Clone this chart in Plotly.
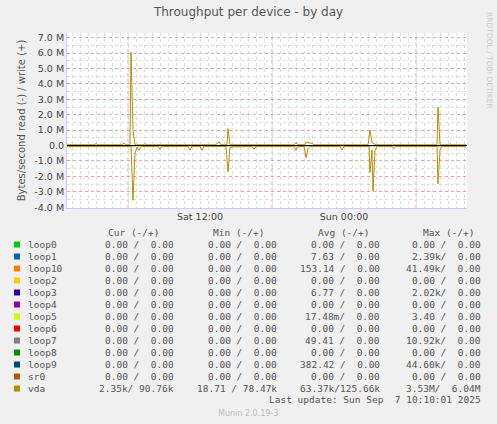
import plotly.graph_objects as go
import pandas as pd

# ---- data (MB/s, write positive, read negative) ----
write_times = ["2025-09-06 00:55","2025-09-06 01:05","2025-09-06 03:10","2025-09-06 03:20","2025-09-06 03:30",
  "2025-09-06 05:30","2025-09-06 05:40","2025-09-06 05:50","2025-09-06 06:10","2025-09-06 06:15","2025-09-06 06:25",
  "2025-09-06 06:35","2025-09-06 07:20","2025-09-06 07:25","2025-09-06 07:35","2025-09-06 10:10","2025-09-06 13:20",
  "2025-09-06 13:35","2025-09-06 13:45","2025-09-06 14:15","2025-09-06 14:20","2025-09-06 14:30","2025-09-06 19:50",
  "2025-09-06 20:00","2025-09-06 20:10","2025-09-06 20:45","2025-09-06 20:50","2025-09-06 21:20","2025-09-06 21:30",
  "2025-09-07 02:00","2025-09-07 02:10","2025-09-07 02:20","2025-09-07 02:40","2025-09-07 07:45","2025-09-07 07:50",
  "2025-09-07 08:00","2025-09-07 08:45","2025-09-07 08:50","2025-09-07 09:00","2025-09-07 10:10"]
write_vals = [0.1,0.05,0.05,0.12,0.05,0.05,0.15,0.05,0.05,6.05,1.0,0.05,0.05,0.12,0.05,0.05,0.05,0.25,0.05,
  0.05,1.1,0.05,0.05,0.2,0.05,0.05,0.2,0.15,0.05,0.05,1.0,0.2,0.05,0.05,2.5,0.05,0.05,0.12,0.05,0.05]
read_times = ["2025-09-06 00:55","2025-09-06 05:30","2025-09-06 06:15","2025-09-06 06:25","2025-09-06 06:35",
  "2025-09-06 06:45","2025-09-06 06:55","2025-09-06 07:05","2025-09-06 08:30","2025-09-06 08:40","2025-09-06 08:50",
  "2025-09-06 11:00","2025-09-06 11:10","2025-09-06 11:20","2025-09-06 12:00","2025-09-06 12:10","2025-09-06 12:20",
  "2025-09-06 14:10","2025-09-06 14:20","2025-09-06 14:30","2025-09-06 16:20","2025-09-06 16:30","2025-09-06 16:40",
  "2025-09-06 19:50","2025-09-06 20:00","2025-09-06 20:10","2025-09-06 20:40","2025-09-06 20:50","2025-09-06 21:00",
  "2025-09-06 21:10","2025-09-06 23:40","2025-09-06 23:50","2025-09-07 00:00","2025-09-07 02:05","2025-09-07 02:10",
  "2025-09-07 02:20","2025-09-07 02:25","2025-09-07 02:35","2025-09-07 02:45","2025-09-07 04:00","2025-09-07 04:10",
  "2025-09-07 04:20","2025-09-07 07:45","2025-09-07 07:50","2025-09-07 08:00","2025-09-07 08:10","2025-09-07 10:10"]
read_vals = [-0.05,-0.05,-0.05,-3.55,-0.5,-0.1,-0.3,-0.05,-0.05,-0.25,-0.05,-0.05,-0.3,-0.05,-0.05,-0.3,-0.05,
  -0.05,-1.7,-0.1,-0.05,-0.25,-0.05,-0.05,-0.3,-0.05,-0.05,-0.8,-0.2,-0.05,-0.05,-0.3,-0.05,-0.05,-1.75,-0.3,
  -2.95,-0.3,-0.05,-0.05,-0.2,-0.05,-0.05,-2.5,-0.3,-0.05,-0.05]

devices = ["loop0","loop1","loop10","loop2","loop3","loop4","loop5","loop6","loop7","loop8","loop9","sr0","vda"]
colors = ["#00cc00","#0066b3","#ff8000","#ffcc00","#330099","#990099","#ccff00","#ff0000","#808080","#008f00","#00487d","#b35a00","#b38f00"]
cur = ["0.00 /  0.00"]*12 + ["2.35k/ 90.76k"]
mins = ["0.00 /  0.00"]*12 + ["18.71 / 78.47k"]
avgs = ["0.00 /  0.00","7.63 /  0.00","153.14 /  0.00","0.00 /  0.00","6.77 /  0.00","0.00 /  0.00",
        "17.48m/  0.00","0.00 /  0.00","49.41 /  0.00","0.00 /  0.00","382.42 /  0.00","0.00 /  0.00","63.37k/125.66k"]
maxs = ["0.00 /  0.00","2.39k/  0.00","41.49k/  0.00","0.00 /  0.00","2.02k/  0.00","0.00 /  0.00",
        "3.40 /  0.00","0.00 /  0.00","10.92k/  0.00","0.00 /  0.00","44.60k/  0.00","0.00 /  0.00","3.53M/  6.04M"]
ytick_vals = [7,6,5,4,3,2,1,0,-1,-2,-3,-4]
ytick_text = ["7.0 M","6.0 M","5.0 M","4.0 M","3.0 M","2.0 M","1.0 M","0.0","-1.0 M","-2.0 M","-3.0 M","-4.0 M"]
xtick_vals = ["2025-09-06 12:00","2025-09-07 00:00"]
xtick_text = ["Sat 12:00","Sun 00:00"]
xmajor = ["2025-09-06 06:00","2025-09-06 18:00","2025-09-07 06:00"]
t0, t1 = "2025-09-06 00:55", "2025-09-07 10:15"

W, H = 497, 424
L, R, T, B = 67, 467, 33, 208
fig = go.Figure()
for d, c in zip(devices[:-1], colors[:-1]):
    fig.add_trace(go.Scatter(x=[t0, t1], y=[0, 0], mode="lines", line=dict(color=c, width=0.6), showlegend=False))
fig.add_trace(go.Scatter(x=write_times, y=write_vals, mode="lines", line=dict(color=colors[-1], width=1), showlegend=False))
fig.add_trace(go.Scatter(x=read_times, y=read_vals, mode="lines", line=dict(color=colors[-1], width=1), showlegend=False))

fig.update_layout(
    width=W, height=H, paper_bgcolor="#f0f0f0", plot_bgcolor="#ffffff",
    margin=dict(l=L, r=W-R, t=T, b=H-B), showlegend=False,
    font=dict(family="DejaVu Sans", size=9.5, color="#444444"),
    title=dict(text="Throughput per device - by day", x=0.5, xanchor="center", y=1-12/H, yanchor="middle",
               font=dict(size=12, color="#555555")),
    xaxis=dict(range=[t0, t1], type="date", tickvals=xtick_vals, ticktext=xtick_text, showgrid=False,
               zeroline=False, showline=True, linecolor="#ccccff", ticks="", ticklen=0,
               minor=dict(dtick=2400000, tick0="2025-09-06 00:00", showgrid=True, gridcolor="#dddddd", griddash="dot")),
    yaxis=dict(range=[-4.05, 7.3], tickvals=ytick_vals, ticktext=ytick_text, showgrid=True,
               gridcolor="#f0a0a0", griddash="dot", zeroline=False, showline=True, linecolor="#ccccff",
               ticks="", title=dict(text="Bytes/second read (-) / write (+)", font=dict(size=10, color="#555555"), standoff=6),
               minor=dict(dtick=0.5, showgrid=True, gridcolor="#dddddd", griddash="dot")),
)
for xm in xmajor:
    fig.add_shape(type="line", xref="x", yref="paper", x0=xm, x1=xm, y0=0, y1=1,
                  line=dict(color="#f0a0a0", width=1, dash="dot"), layer="below")
fig.add_shape(type="line", xref="paper", yref="y", x0=0, x1=1, y0=0, y1=0, line=dict(color="#000000", width=1))

def ann(text, x, y, xa="left", size=9.5, color="#555555", fam="DejaVu Sans Mono", angle=0):
    fig.add_annotation(text=text, x=(x - L)/(R - L), y=(B - y)/(B - T), xref="paper", yref="paper",
                       xanchor=xa, yanchor="middle", showarrow=False, textangle=angle,
                       font=dict(family=fam, size=size, color=color))

for name, xe in zip(["Cur (-/+)","Min (-/+)","Avg (-/+)","Max (-/+)"], [161, 266, 371, 476]):
    ann(name, xe, 232, "right")
for i, d in enumerate(devices):
    y = 244.5 + 12*i
    fig.add_shape(type="rect", xref="paper", yref="paper",
                  x0=(14-L)/(R-L), x1=(20-L)/(R-L), y0=(B-(y+3))/(B-T), y1=(B-(y-3))/(B-T),
                  fillcolor=colors[i], line=dict(width=0))
    ann(d, 26, y)
    ann(cur[i], 176, y, "right")
    ann(mins[i], 279, y, "right")
    ann(avgs[i], 382, y, "right")
    ann(maxs[i], 483, y, "right")
ann("Last update: Sun Sep  7 10:10:01 2025", 483, 400, "right")
ann("Munin 2.0.19-3", 248, 413, "center", size=8, color="#bbbbbb", fam="DejaVu Sans")
ann("RRDTOOL / TOBI OETIKER", 489, 60, "center", size=7.5, color="#cccccc", fam="DejaVu Sans", angle=90)
fig.write_html("out.html", config={"displayModeBar": False},
               post_script="document.body.style.margin='0';document.body.style.padding='0';")
